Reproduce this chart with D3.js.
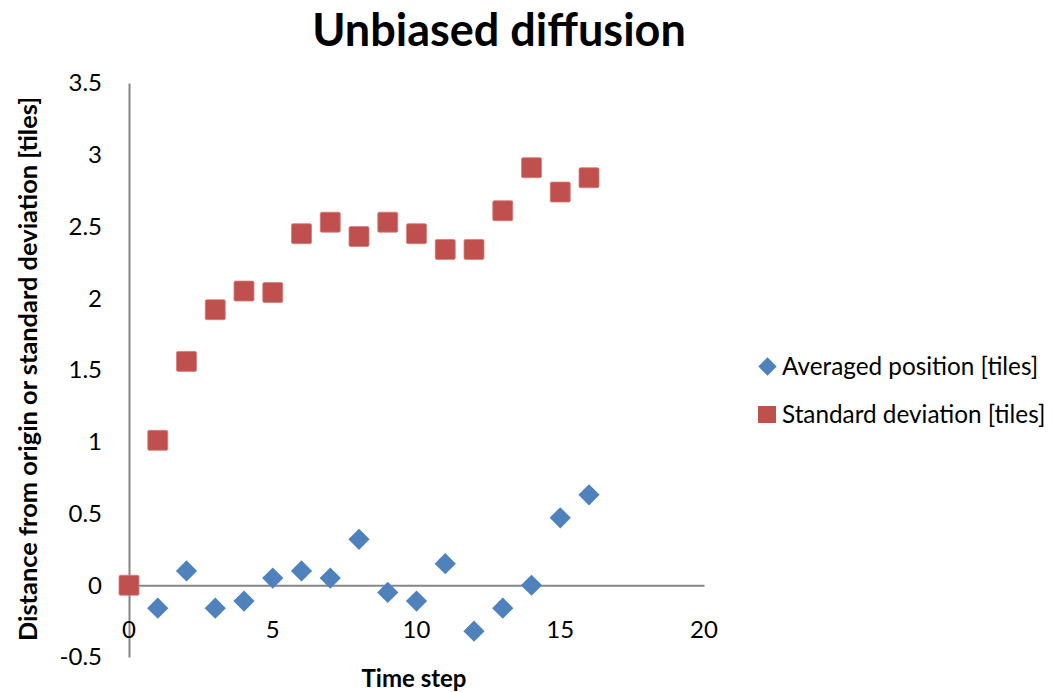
<!DOCTYPE html>
<html>
<head>
<meta charset="utf-8">
<script src="https://cdn.jsdelivr.net/npm/d3@7"></script>
<style>
  body { margin: 0; background: #fff; }
  svg text { font-family: Lato, "Open Sans", sans-serif; fill: #000; }
</style>
</head>
<body>
<div id="graphic"></div>
<script>
(function () {
  "use strict";

  // time steps 0..16
  let steps = [0, 1, 2, 3, 4, 5, 6, 7, 8, 9, 10, 11, 12, 13, 14, 15, 16]
  // averaged position (no point at step 0)
  let avgPos = [null, -0.16, 0.1, -0.16, -0.11, 0.05, 0.1, 0.05, 0.32, -0.05, -0.11, 0.15, -0.32, -0.16, 0, 0.47, 0.63]
  let stdDev = [0, 1.01, 1.56, 1.92, 2.05, 2.04, 2.45, 2.53, 2.43, 2.53, 2.45, 2.34, 2.34, 2.61, 2.91, 2.74, 2.84]

  let xTicks = [0, 5, 10, 15, 20]
  let yTicks = [-0.5, 0, 0.5, 1, 1.5, 2, 2.5, 3, 3.5]
  let seriesNames = ['Averaged position [tiles]', 'Standard deviation [tiles]']

  let blue = '#4F81BD'
  let red = '#C0504D'
  let axisGrey = '#868686'

  let width = 1053, height = 692

  let svg = d3.select('#graphic').append('svg')
    .attr('width', width)
    .attr('height', height)

  let x = d3.scaleLinear().domain([0, 20]).range([129, 704])
  let y = d3.scaleLinear().domain([-0.5, 3.5]).range([657, 83])

  // title
  svg.append('text')
    .attr('x', 499)
    .attr('y', 46)
    .attr('text-anchor', 'middle')
    .style('font-weight', 'bold')
    .style('font-size', '45px')
    .text('Unbiased diffusion')

  // axes (lines only, labels drawn separately like excel does)
  let xAxis = d3.axisBottom(x).tickValues(xTicks).tickSize(0).tickFormat('')
  let yAxis = d3.axisLeft(y).tickValues(yTicks).tickSize(0).tickFormat('')

  svg.append('g')
    .attr('transform', `translate(0,${y(0)})`)
    .call(xAxis)
    .call(g => g.select('.domain').attr('stroke', axisGrey).attr('stroke-width', 2))

  svg.append('g')
    .attr('transform', `translate(${x(0)},0)`)
    .call(yAxis)
    .call(g => g.select('.domain').attr('stroke', axisGrey).attr('stroke-width', 2))

  svg.append('g').selectAll('text')
    .data(xTicks)
    .enter().append('text')
    .attr('x', d => x(d))
    .attr('y', 638)
    .attr('text-anchor', 'middle')
    .style('font-size', '24px')
    .text(d => d)

  svg.append('g').selectAll('text')
    .data(yTicks)
    .enter().append('text')
    .attr('x', 102)
    .attr('y', d => y(d))
    .attr('dy', '0.35em')
    .attr('text-anchor', 'end')
    .style('font-size', '24px')
    .text(d => d)

  // axis titles
  svg.append('text')
    .attr('x', 414)
    .attr('y', 687)
    .attr('text-anchor', 'middle')
    .style('font-weight', 'bold')
    .style('font-size', '24px')
    .text('Time step')

  svg.append('text')
    .attr('transform', 'translate(37,369) rotate(-90)')
    .attr('text-anchor', 'middle')
    .style('font-weight', 'bold')
    .style('font-size', '25.4px')
    .text('Distance from origin or standard deviation [tiles]')

  let sq = 20
  let dia = 15

  // standard deviation squares
  svg.append('g').selectAll('rect')
    .data(steps.filter((d, i) => stdDev[i] !== null))
    .enter().append('rect')
    .attr('x', d => x(d) - sq / 2)
    .attr('y', d => y(stdDev[d]) - sq / 2)
    .attr('width', sq)
    .attr('height', sq)
    .attr('rx', 1.5)
    .attr('fill', red)
    .attr('stroke', '#D47E7B')
    .attr('stroke-width', 0.8)

  // averaged position diamonds
  svg.append('g').selectAll('rect')
    .data(steps.filter((d, i) => avgPos[i] !== null))
    .enter().append('rect')
    .attr('x', -dia / 2)
    .attr('y', -dia / 2)
    .attr('width', dia)
    .attr('height', dia)
    .attr('transform', d => `translate(${x(d)},${y(avgPos[d])}) rotate(45)`)
    .attr('fill', blue)

  // legend
  let legend = svg.append('g')
  legend.append('rect')
    .attr('x', -6.5).attr('y', -6.5).attr('width', 13).attr('height', 13)
    .attr('transform', 'translate(767.5,366.5) rotate(45)')
    .attr('fill', blue)
  legend.append('rect')
    .attr('x', 758).attr('y', 406).attr('width', 18).attr('height', 17)
    .attr('fill', red)

  legend.selectAll('text')
    .data(seriesNames)
    .enter().append('text')
    .attr('x', 782)
    .attr('y', (d, i) => 366 + i * 48)
    .attr('dy', '0.35em')
    .style('font-size', '24.3px')
    .text(d => d)

}());
</script>
</body>
</html>
